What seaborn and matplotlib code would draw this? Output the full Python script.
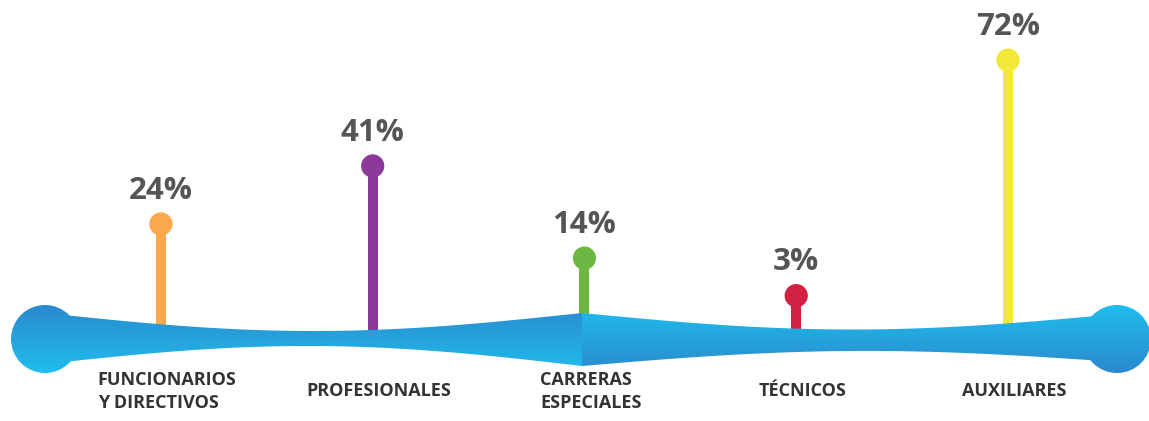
import numpy as np
import matplotlib
matplotlib.use("Agg")
import matplotlib.pyplot as plt
from matplotlib.colors import LinearSegmentedColormap
from matplotlib.patches import Circle, Polygon
import seaborn as sns

# data
categories = ["FUNCIONARIOS\nY DIRECTIVOS", "PROFESIONALES", "CARRERAS\nESPECIALES",
              "TÉCNICOS", "AUXILIARES"]
values = [24, 41, 14, 3, 72]
colors = ["#F9A94B", "#8B3A99", "#6DB843", "#D12041", "#F2E83A"]

sns.set_style("white")
plt.rcParams["font.family"] = ["Open Sans", "DejaVu Sans"]

fig = plt.figure(figsize=(11.49, 4.21), dpi=100)
ax = fig.add_axes([0, 0, 1, 1])
ax.set_facecolor("none")
ax.set_xlim(-0.76, 4.666)
ax.set_ylim(-33.7, 89.6)
ax.axis("off")

pos = np.arange(len(values))

# stems and heads
ax.vlines(pos, -9, values, colors=colors, linewidth=7.2, zorder=1)
sns.scatterplot(x=pos, y=values, hue=categories, palette=colors, s=280,
                linewidth=0, legend=False, ax=ax, zorder=3)

for i, v in enumerate(values):
    ax.annotate(f"{v}%", (i, v), xytext=(0, 24), textcoords="offset points",
                ha="center", va="center", fontsize=22.5, fontweight="bold",
                color="#555555")
    ax.text(i + 0.03, -25.0, categories[i], ha="center", va="center", fontsize=13,
            fontweight="bold", color="#333333", multialignment="left",
            linespacing=1.35)

# ribbon decoration (pixel frame)
rax = fig.add_axes([0, 0, 1, 1], zorder=2)
rax.set_facecolor("none")
rax.set_xlim(0, 1149)
rax.set_ylim(421, 0)
rax.axis("off")


def edge(x, x0, x1, y0, y1, sag):
    t = (x - x0) / (x1 - x0)
    return y0 + (y1 - y0) * t + sag * np.sin(np.pi * t)


xl = np.linspace(45, 582, 200)
top_l = edge(xl, 45, 582, 313, 313, 18)
bot_l = edge(xl, 45, 582, 364, 366, -19)
xr = np.linspace(582, 1117, 200)
top_r = edge(xr, 582, 1117, 313, 314, 16)
bot_r = edge(xr, 582, 1117, 366, 362, -13)

dark, mid, light = "#2A89CF", "#25A3DC", "#1FBEF0"
cmap_l = LinearSegmentedColormap.from_list("l", [dark, mid, light])
cmap_r = LinearSegmentedColormap.from_list("r", [light, mid, dark])
grad = np.linspace(0, 1, 256)[:, None]

pieces = [
    (cmap_l, (0, 583), [Polygon(np.column_stack([np.r_[xl, xl[::-1]], np.r_[top_l, bot_l[::-1]]]),
                                closed=True, transform=rax.transData),
                        Circle((45, 339), 34, transform=rax.transData)]),
    (cmap_r, (581, 1149), [Polygon(np.column_stack([np.r_[xr, xr[::-1]], np.r_[top_r, bot_r[::-1]]]),
                                   closed=True, transform=rax.transData),
                           Circle((1117, 339), 34, transform=rax.transData)]),
]
for cmap, (x0, x1), clips in pieces:
    for clip in clips:
        im = rax.imshow(grad, cmap=cmap, aspect="auto", extent=(x0, x1, 373, 305),
                        origin="upper", interpolation="bilinear")
        im.set_clip_path(clip)

rax.set_xlim(0, 1149)
rax.set_ylim(421, 0)

fig.savefig("out.png", dpi=100, facecolor="white")
